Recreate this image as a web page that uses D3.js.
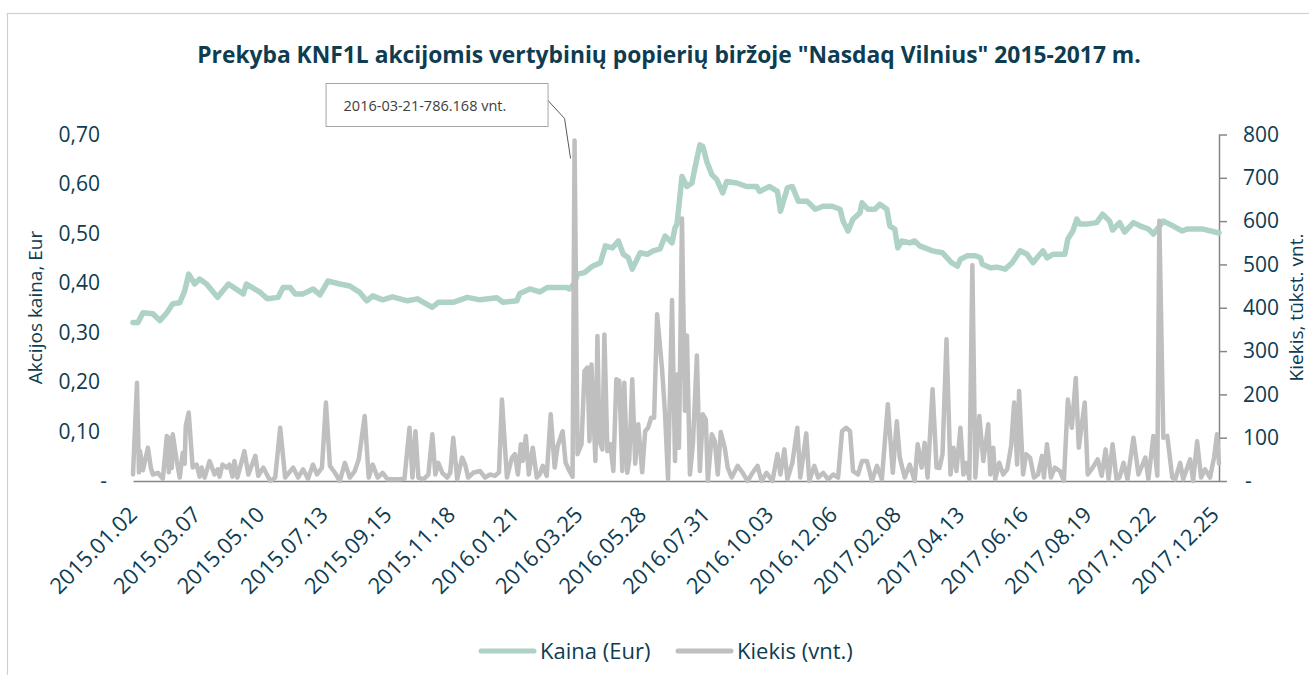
<!DOCTYPE html>
<html><head><meta charset="utf-8">
<script src="https://cdn.jsdelivr.net/npm/d3@7"></script>
<style>
html,body{margin:0;padding:0;background:#fff;}
svg{display:block;font-family:"Open Sans","Noto Sans",sans-serif;}
</style></head><body>
<svg id="chart" width="1309" height="675"></svg>
<script>
// ---------------- DATA ----------------
const title = 'Prekyba KNF1L akcijomis vertybinių popierių biržoje "Nasdaq Vilnius" 2015-2017 m.';
const seriesNames = ["Kaina (Eur)", "Kiekis (vnt.)"];
const leftAxisTitle = "Akcijos kaina, Eur";
const rightAxisTitle = "Kiekis, tūkst. vnt.";

const xTickLabels = ["2015.01.02","2015.03.07","2015.05.10","2015.07.13","2015.09.15","2015.11.18",
  "2016.01.21","2016.03.25","2016.05.28","2016.07.31","2016.10.03","2016.12.06",
  "2017.02.08","2017.04.13","2017.06.16","2017.08.19","2017.10.22","2017.12.25"];
const priceTicks = [0, 0.1, 0.2, 0.3, 0.4, 0.5, 0.6, 0.7];
const volumeTicks = [0, 100, 200, 300, 400, 500, 600, 700, 800];
const periodStart = "2015-01-02";
const periodEnd = "2017-12-29";

// Price (Eur)
const priceDates = [
"2015-01-02","2015-01-07","2015-01-12","2015-01-22","2015-01-29","2015-02-05","2015-02-11","2015-02-18","2015-02-23","2015-02-27",
"2015-03-05","2015-03-10","2015-03-17","2015-03-28","2015-04-08","2015-04-23","2015-04-26","2015-05-10","2015-05-17","2015-05-28",
"2015-06-02","2015-06-09","2015-06-14","2015-06-22","2015-07-02","2015-07-09","2015-07-17","2015-07-29","2015-08-08","2015-08-18",
"2015-08-25","2015-08-31","2015-09-10","2015-09-20","2015-10-05","2015-10-15","2015-10-21","2015-10-30","2015-11-05","2015-11-20",
"2015-12-04","2015-12-17","2016-01-03","2016-01-09","2016-01-23","2016-01-26","2016-02-05","2016-02-15","2016-02-23","2016-03-03",
"2016-03-13","2016-03-16","2016-03-21","2016-03-24","2016-03-31","2016-04-08","2016-04-16","2016-04-21","2016-04-28","2016-05-04",
"2016-05-09","2016-05-14","2016-05-18","2016-05-26","2016-06-02","2016-06-08","2016-06-15","2016-06-20","2016-06-27","2016-06-30",
"2016-07-02","2016-07-07","2016-07-12","2016-07-17","2016-07-20","2016-07-25","2016-07-28","2016-08-01","2016-08-06","2016-08-11",
"2016-08-17","2016-08-21","2016-08-31","2016-09-10","2016-09-20","2016-09-23","2016-10-03","2016-10-11","2016-10-14","2016-10-21",
"2016-10-26","2016-11-01","2016-11-10","2016-11-18","2016-11-26","2016-12-05","2016-12-13","2016-12-16","2016-12-21","2016-12-26",
"2017-01-02","2017-01-04","2017-01-10","2017-01-17","2017-01-22","2017-01-29","2017-02-01","2017-02-06","2017-02-09","2017-02-13",
"2017-02-21","2017-02-26","2017-03-03","2017-03-16","2017-03-26","2017-04-04","2017-04-10","2017-04-13","2017-04-20","2017-04-28",
"2017-05-03","2017-05-05","2017-05-13","2017-05-20","2017-05-28","2017-06-04","2017-06-12","2017-06-19","2017-06-25","2017-06-29",
"2017-07-05","2017-07-09","2017-07-15","2017-07-27","2017-07-30","2017-08-04","2017-08-08","2017-08-11","2017-08-18","2017-08-28",
"2017-09-03","2017-09-10","2017-09-13","2017-09-20","2017-09-25","2017-10-04","2017-10-11","2017-10-19","2017-10-24","2017-11-03",
"2017-11-13","2017-11-22","2017-11-27","2017-12-13","2017-12-29"];
const priceValues = [
.320,.320,.340,.338,.324,.340,.358,.360,.384,.418,
.398,.408,.398,.371,.398,.378,.398,.381,.368,.371,
.391,.391,.378,.378,.388,.376,.404,.398,.394,.381,
.364,.374,.366,.372,.364,.368,.361,.351,.361,.361,
.371,.366,.370,.361,.364,.379,.388,.382,.391,.391,
.391,.388,.400,.418,.421,.434,.441,.475,.471,.485,
.458,.451,.428,.461,.458,.465,.469,.495,.481,.511,
.519,.615,.595,.602,.632,.679,.676,.645,.619,.609,
.582,.605,.602,.595,.595,.585,.595,.585,.545,.592,
.595,.565,.565,.549,.555,.555,.549,.525,.505,.529,
.542,.562,.549,.549,.559,.549,.515,.509,.471,.485,
.481,.485,.475,.465,.461,.441,.434,.448,.455,.455,
.451,.438,.431,.432,.428,.441,.465,.458,.441,.451,
.465,.451,.458,.458,.489,.505,.529,.519,.519,.522,
.539,.525,.507,.522,.503,.522,.515,.509,.499,.525,
.515,.505,.509,.509,.501];

// Volume (thousand units); dates given as days since periodStart
const volumeDays = [
0,4,6,7,10,15,18,20,25,30,
34,36,37,39,40,44,47,50,52,53,
56,60,64,67,69,72,77,82,85,87,
90,94,97,100,102,105,112,116,123,126,
131,138,143,148,153,161,166,171,176,181,
185,190,194,198,203,208,213,218,223,227,
233,237,241,246,251,256,264,268,273,278,
281,284,287,292,297,301,304,307,311,316,
319,322,326,331,334,337,342,349,354,359,
364,368,371,376,381,384,387,390,392,395,
398,402,406,409,412,416,420,424,427,432,
435,438,442,444,447,451,454,457,459,461,
465,467,469,472,474,477,480,483,486,489,
492,494,497,499,502,505,508,512,515,518,
521,524,527,532,535,538,542,545,547,549,
552,555,557,560,563,567,570,573,576,578,
582,585,588,591,595,598,602,608,613,618,
623,628,632,637,643,648,651,655,658,663,
668,671,677,680,685,689,694,699,704,709,
713,717,721,724,729,733,738,743,748,753,
759,764,768,771,776,781,786,789,793,796,
799,804,808,811,814,818,822,825,828,832,
835,838,841,844,847,851,855,860,862,865,
867,871,875,879,883,886,889,891,895,898,
902,906,910,914,916,919,923,927,932,936,
940,944,948,951,957,960,965,970,974,978,
981,985,989,992,996,1000,1006,1011,1018,1021,
1026,1030,1032,1036,1040,1045,1048,1053,1056,1063,
1066,1070,1074,1078,1083,1087,1090,1092];
const volumeValues = [
15,227,20,69,25,77,30,15,19,5,
104,20,100,30,108,46,8,65,40,127,
158,31,38,10,31,8,46,15,27,10,
38,31,38,10,46,8,69,15,58,12,
31,0,8,123,8,31,8,27,5,38,
15,31,181,35,19,0,42,8,23,50,
150,8,38,8,19,4,4,4,5,123,
8,115,8,4,15,108,15,42,19,8,
19,100,4,54,38,8,19,23,8,15,
12,20,188,8,54,62,15,85,46,104,
15,77,8,15,35,12,154,31,81,115,
42,27,10,786.168,62,85,254,262,92,269,
46,335,92,73,338,69,85,23,235,231,
23,227,19,50,235,40,131,20,115,123,
146,146,385,258,154,4,418,46,246,77,
606,162,336,15,85,290,23,154,142,0,
108,92,15,113,77,31,8,35,19,0,
19,35,0,19,0,62,15,73,4,42,
123,8,110,0,35,8,19,4,15,8,
115,123,115,23,15,46,46,0,35,4,
177,19,138,54,8,38,0,85,31,88,
8,212,31,30,62,327,15,77,23,123,
15,42,4,498,8,150,46,131,15,77,
4,42,15,27,81,181,38,208,15,62,
54,8,15,58,8,85,8,31,23,0,
188,123,238,77,181,15,31,50,12,73,
4,85,4,8,42,4,100,15,54,4,
104,12,601,100,104,8,4,42,4,50,
0,92,8,27,8,54,108,40];

// ---------------- CHART ----------------
const TXT = "#0e3c50";
const PRICE_COLOR = "#aed2c8";
const VOL_COLOR = "#bfbfbf";
const AXIS_COLOR = "#868686";

const parseISO = d3.timeParse("%Y-%m-%d");
const parseDot = d3.timeParse("%Y.%m.%d");
const start = parseISO(periodStart);

const priceData = priceDates.map((d, i) => ({date: parseISO(d), v: priceValues[i]}));
const volData = volumeDays.map((d, i) => ({date: d3.timeDay.offset(start, d), v: volumeValues[i]}));
const tickDates = xTickLabels.map(parseDot);

const svg = d3.select("#chart");

// outer frame
svg.append("rect").attr("x", 7.5).attr("y", 13.5).attr("width", 1400).attr("height", 700)
  .attr("fill", "none").attr("stroke", "#d0d0d0").attr("stroke-width", 1.2);

const x = d3.scaleTime().domain([start, parseISO(periodEnd)]).range([133, 1219]);
const yP = d3.scaleLinear().domain([0, 0.7]).range([481, 134.5]);
const yV = d3.scaleLinear().domain([0, 800]).range([481, 134.5]);

// title
svg.append("text").attr("x", 669).attr("y", 63).attr("text-anchor", "middle")
  .attr("font-size", 22.8).attr("font-weight", 700).attr("fill", TXT).text(title);

// left axis
const fmtPrice = d => d === 0 ? "-" : d3.format(".2f")(d).replace(".", ",");
const gL = svg.append("g").attr("transform", "translate(133,0)")
  .call(d3.axisLeft(yP).tickValues(priceTicks).tickSize(0).tickPadding(33).tickFormat(fmtPrice));
gL.attr("font-family", null).attr("font-size", null);
gL.select(".domain").remove();
gL.selectAll("text").attr("font-size", 21).attr("fill", TXT)
  .attr("dx", d => d === 0 ? 7 : 0);

// right axis
const gR = svg.append("g").attr("transform", "translate(1219,0)")
  .call(d3.axisRight(yV).tickValues(volumeTicks).tickSizeInner(8).tickSizeOuter(0).tickPadding(16)
    .tickFormat(d => d === 0 ? "-" : String(d)));
gR.attr("font-family", null).attr("font-size", null);
gR.select(".domain").attr("stroke", AXIS_COLOR).attr("stroke-width", 1.5);
gR.selectAll("line").attr("stroke", AXIS_COLOR).attr("stroke-width", 1.5);
gR.selectAll("text").attr("font-size", 21).attr("fill", TXT)
  .attr("dx", d => d === 0 ? 2 : 0);

// bottom axis
const gB = svg.append("g").attr("transform", "translate(0,481)")
  .call(d3.axisBottom(x).tickValues(tickDates).tickSize(0).tickSizeOuter(0)
    .tickFormat((d, i) => xTickLabels[i]));
gB.attr("font-family", null).attr("font-size", null);
gB.select(".domain").attr("stroke", AXIS_COLOR).attr("stroke-width", 1.5);
gB.selectAll("text").attr("font-size", 22).attr("fill", TXT)
  .attr("text-anchor", "end").attr("x", 0).attr("y", 0).attr("dy", 0)
  .attr("transform", "translate(5,35) rotate(-45)");

// axis titles
svg.append("text").attr("transform", "translate(42,307.5) rotate(-90)").attr("text-anchor", "middle")
  .attr("font-size", 19).attr("fill", TXT).text(leftAxisTitle);
svg.append("text").attr("transform", "translate(1303,307.5) rotate(-90)").attr("text-anchor", "middle")
  .attr("font-size", 19).attr("fill", TXT).text(rightAxisTitle);

// lines
const linePrice = d3.line().x(d => x(d.date)).y(d => yP(d.v));
const lineVol = d3.line().x(d => x(d.date)).y(d => yV(d.v));
svg.append("path").datum(priceData).attr("d", linePrice).attr("fill", "none")
  .attr("stroke", PRICE_COLOR).attr("stroke-width", 5.5).attr("stroke-linejoin", "round").attr("stroke-linecap", "round");
svg.append("path").datum(volData).attr("d", lineVol).attr("fill", "none")
  .attr("stroke", VOL_COLOR).attr("stroke-width", 4.5).attr("stroke-linejoin", "round").attr("stroke-linecap", "round");

// annotation for max volume
const maxPt = volData.reduce((a, b) => b.v > a.v ? b : a);
const mx = x(maxPt.date), my = yV(maxPt.v);
const boxR = mx - 27, boxL = boxR - 222, boxT = 83, boxH = 43;
svg.append("polyline")
  .attr("points", [[boxR, boxT + 17], [mx - 10, my - 22], [mx - 4, my + 18]].map(p => p.join(",")).join(" "))
  .attr("fill", "none").attr("stroke", "#595959").attr("stroke-width", 1);
svg.append("rect").attr("x", boxL + 0.5).attr("y", boxT + 0.5).attr("width", 222).attr("height", boxH)
  .attr("fill", "#fff").attr("stroke", "#a6a6a6").attr("stroke-width", 1);
svg.append("text").attr("x", boxL + 18).attr("y", boxT + boxH / 2 + 1).attr("dy", "0.35em")
  .attr("font-size", 14.5).attr("fill", "#404040")
  .text(d3.timeFormat("%Y-%m-%d")(maxPt.date) + "-" + d3.format(".3f")(maxPt.v) + " vnt.");

// legend
const legend = [
  {name: seriesNames[0], color: PRICE_COLOR, x0: 481},
  {name: seriesNames[1], color: VOL_COLOR, x0: 678}
];
legend.forEach(l => {
  svg.append("line").attr("x1", l.x0).attr("x2", l.x0 + 53).attr("y1", 651).attr("y2", 651)
    .attr("stroke", l.color).attr("stroke-width", 5).attr("stroke-linecap", "round");
  svg.append("text").attr("x", l.x0 + 59).attr("y", 651).attr("dy", "0.35em")
    .attr("font-size", 22).attr("fill", TXT).text(l.name);
});
</script></body></html>
